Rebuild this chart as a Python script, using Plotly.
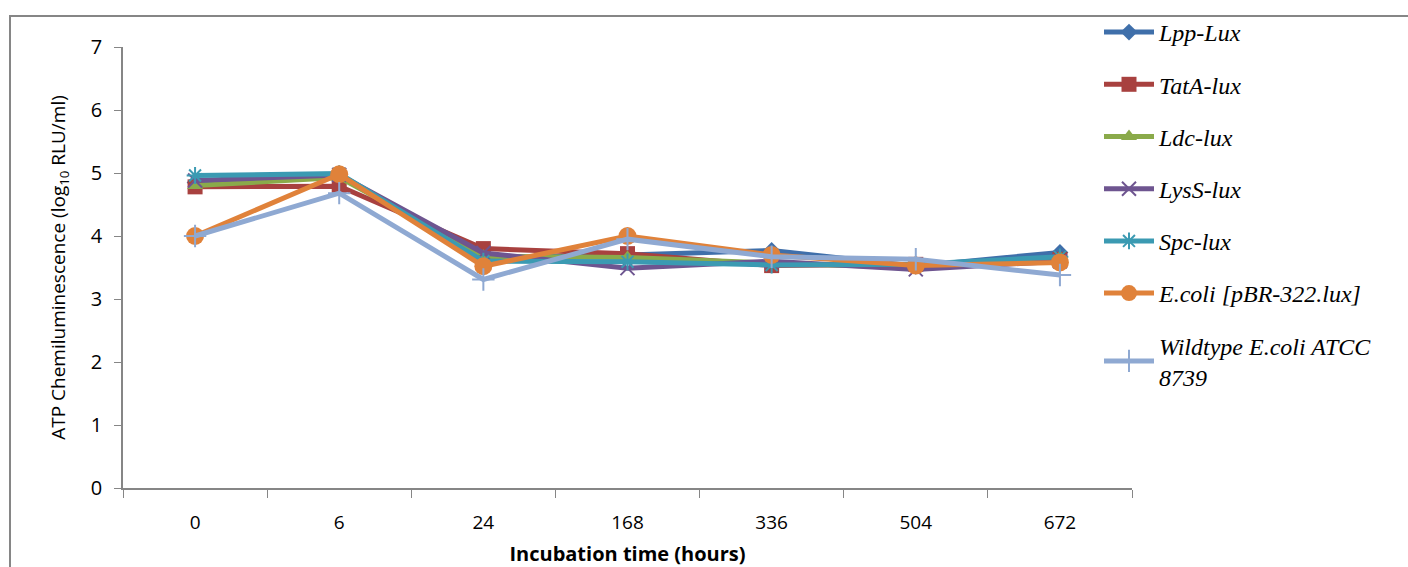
import plotly.graph_objects as go

categories = ["0", "6", "24", "168", "336", "504", "672"]
series_names = ["Lpp-Lux", "TatA-lux", "Ldc-lux", "LysS-lux", "Spc-lux",
                "E.coli [pBR-322.lux]", "Wildtype E.coli ATCC<br>8739"]
lpp = [4.85, 4.97, 3.65, 3.70, 3.77, 3.52, 3.74]
tata = [4.78, 4.79, 3.80, 3.72, 3.53, 3.55, 3.63]
ldc = [4.80, 4.93, 3.68, 3.66, 3.57, 3.50, 3.66]
lyss = [4.88, 4.97, 3.73, 3.49, 3.60, 3.47, 3.60]
spc = [4.96, 4.99, 3.60, 3.59, 3.54, 3.55, 3.67]
ecoli = [4.00, 4.98, 3.52, 4.00, 3.70, 3.53, 3.58]
wild = [4.00, 4.68, 3.31, 3.95, 3.67, 3.63, 3.38]
y_ticks = [0, 1, 2, 3, 4, 5, 6, 7]

values = [lpp, tata, ldc, lyss, spc, ecoli, wild]
colors = ["#3F6FAA", "#A8413F", "#8AAA4A", "#6E5590", "#3B9AB2", "#E0823A", "#8FA9D2"]
symbols = ["diamond", "square", "triangle-up", "x-thin", "asterisk", "circle", "cross-thin"]
sizes = [13, 15, 14, 14, 14, 18, 16]

fig = go.Figure()
for i, (name, vals) in enumerate(zip(series_names, values)):
    thin = symbols[i].endswith("thin") or symbols[i] == "asterisk"
    fig.add_trace(go.Scatter(
        x=categories, y=vals, name=name, mode="lines+markers",
        legendgroup="g%d" % i,
        line=dict(color=colors[i], width=5),
        marker=dict(symbol=symbols[i], size=sizes[i], color=colors[i],
                    line=dict(color=colors[i], width=2 if thin else 0)),
    ))

L, R, T, B = 123, 276, 47, 79
W, H = 1408, 567
pw, ph = W - L - R, H - T - B
sans = "Open Sans, DejaVu Sans Condensed, Arial"

fig.update_layout(
    width=W, height=H,
    margin=dict(l=L, r=R, t=T, b=B, pad=0, autoexpand=False),
    paper_bgcolor="white", plot_bgcolor="white",
    showlegend=True,
    legend=dict(
        x=(1099 - L) / pw, y=(H - B - 10) / ph, xanchor="left", yanchor="top",
        font=dict(family="Liberation Serif, Times New Roman, serif", size=24,
                  color="black", style="italic"),
        tracegroupgap=18, itemwidth=50, bgcolor="rgba(0,0,0,0)",
        maxheight=600,
    ),
    xaxis=dict(
        type="category", categoryorder="array", categoryarray=categories,
        range=[-0.5, 6.5], tickson="boundaries", ticks="outside", ticklen=8,
        tickcolor="#868686", showline=True, linecolor="#868686", linewidth=1.5,
        showgrid=False, zeroline=False, ticklabelstandoff=16, automargin=False,
        tickfont=dict(family=sans, size=19, color="black"),
        title=dict(text="<b>Incubation time (hours)</b>", standoff=14,
                   font=dict(family=sans, size=20, color="black")),
    ),
    yaxis=dict(
        range=[0, 7], tickvals=y_ticks, ticks="outside", ticklen=7,
        tickcolor="#868686", showline=True, linecolor="#868686", linewidth=1.5,
        showgrid=False, zeroline=False, ticklabelstandoff=8, automargin=False,
        tickfont=dict(family=sans, size=20, color="black"),
        title=dict(text="ATP Chemiluminescence (log<sub>10</sub> RLU/ml)", standoff=20,
                   font=dict(family=sans, size=19, color="black")),
    ),
    shapes=[dict(
        type="rect", xref="paper", yref="paper",
        x0=(10 - L) / pw, x1=(W + 20 - L) / pw,
        y0=-(B + 20) / ph, y1=(H - B - 16) / ph,
        line=dict(color="#868686", width=2), fillcolor="rgba(0,0,0,0)", layer="below",
    )],
)

fig.write_html("out.html", config={"displayModeBar": False},
               post_script="document.body.style.margin='0';document.body.style.overflow='hidden';")
